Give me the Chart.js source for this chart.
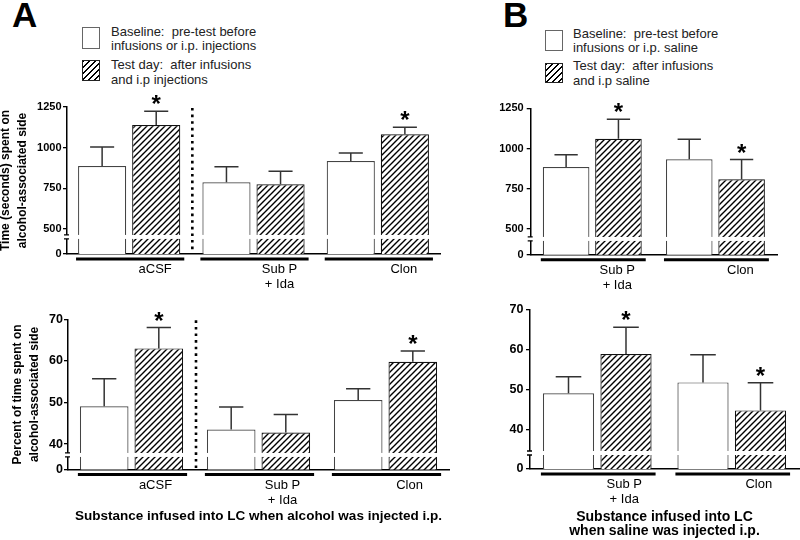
<!DOCTYPE html>
<html>
<head>
<meta charset="utf-8">
<script src="https://cdn.jsdelivr.net/npm/chart.js@4.4.1/dist/chart.umd.min.js"></script>
<style>
  body { margin: 0; background: #fff; }
  #page { position: relative; width: 800px; height: 540px; overflow: hidden; background: #fff;
    font-family: 'Liberation Sans', Arial, sans-serif; color: #111; }
  canvas { position: absolute; }
  .letter { position: absolute; font-weight: bold; font-size: 35px; line-height: 35px; color: #000; }
  .lg-text { position: absolute; font-size: 13px; line-height: 14px; white-space: nowrap; color: #222; }
  .sw { position: absolute; width: 16px; box-sizing: content-box; }
  .sw.plain { border: 1.5px solid #666; background: #fff; }
  .sw.hatch { border: 1.5px solid #222;
    background: repeating-linear-gradient(135deg, #000 0 1.3px, #fff 1.3px 4.2px); }
</style>
</head>
<body>
<div id="page">
  <div class="letter" style="left:12px; top:-3px;">A</div>
  <div class="sw plain" style="left:82px; top:27px; height:20px;"></div>
  <div class="lg-text" style="left:111px; top:25px;">Baseline:&nbsp; pre-test before<br>infusions or i.p. injections</div>
  <div class="sw hatch" style="left:82px; top:60px; height:19px;"></div>
  <div class="lg-text" style="left:111px; top:57px; line-height:15px;">Test day:&nbsp; after infusions<br>and i.p injections</div>

  <div class="letter" style="left:503px; top:-3px;">B</div>
  <div class="sw plain" style="left:545px; top:30px; height:19px;"></div>
  <div class="lg-text" style="left:573px; top:27px;">Baseline:&nbsp; pre-test before<br>infusions or i.p. saline</div>
  <div class="sw hatch" style="left:545px; top:63px; height:18px;"></div>
  <div class="lg-text" style="left:573px; top:58px; line-height:15px;">Test day:&nbsp; after infusions<br>and i.p saline</div>

  <canvas id="aTime" width="453" height="205" style="left:-3px; top:90px;"></canvas>
  <canvas id="aPct" width="460" height="240" style="left:0px; top:300px;"></canvas>
  <canvas id="bTime" width="320" height="205" style="left:480px; top:90px;"></canvas>
  <canvas id="bPct" width="320" height="240" style="left:480px; top:300px;"></canvas>
</div>
<script>
// categories
const groupsA = ['aCSF', ['Sub P', '+ Ida'], 'Clon'];
const groupsB = [['Sub P', '+ Ida'], 'Clon'];

// time (s) on alcohol-associated side, mean and SEM
const timeBaseA = [887, 787, 918];
const timeBaseErrA = [117, 96, 49];
const timeTestA = [1139, 775, 1082];
const timeTestErrA = [85, 80, 43];
const timeBaseB = [885, 933];
const timeBaseErrB = [77, 124];
const timeTestB = [1061, 809];
const timeTestErrB = [121, 122];

// percent of time on alcohol-associated side
const pctBaseA = [49.1, 43.5, 50.6];
const pctBaseErrA = [6.6, 5.4, 2.7];
const pctTestA = [63.0, 42.8, 59.8];
const pctTestErrA = [5.0, 4.3, 2.6];
const pctBaseB = [49.2, 51.9];
const pctBaseErrB = [4.1, 6.9];
const pctTestB = [59.0, 44.9];
const pctTestErrB = [6.7, 6.9];

// significance stars on test-day bars
const starsA = [true, false, true];
const starsB = [true, true];

// tick labels
const timeTicks = [500, 750, 1000, 1250];
const pctTicks = [40, 50, 60, 70];

const FONT = "'Liberation Sans', Arial, sans-serif";
Chart.defaults.font.family = FONT;
Chart.defaults.color = '#000';

function makeHatch() {
  const c = document.createElement('canvas');
  c.width = 6; c.height = 6;
  const g = c.getContext('2d');
  g.fillStyle = '#fff';
  g.fillRect(0, 0, 6, 6);
  g.strokeStyle = '#000';
  g.lineWidth = 1.4;
  g.beginPath();
  g.moveTo(-1, 7); g.lineTo(7, -1);
  g.moveTo(-1, 1); g.lineTo(1, -1);
  g.moveTo(5, 7); g.lineTo(7, 5);
  g.stroke();
  return g.createPattern(c, 'repeat');
}
const hatch = makeHatch();

// error bars, stars, group underlines, axis break, divider
const panelDecor = {
  id: 'panelDecor',
  afterDatasetsDraw(chart, args, opts) {
    const { ctx, chartArea: a, scales: { x, y } } = chart;
    ctx.save();
    chart.data.datasets.forEach((ds, di) => {
      chart.getDatasetMeta(di).data.forEach((bar, i) => {
        const top = y.getPixelForValue(ds.data[i] + ds.errors[i]);
        const half = bar.width / 4;
        ctx.strokeStyle = '#333';
        ctx.lineWidth = 1.5;
        ctx.beginPath();
        ctx.moveTo(bar.x, bar.y);
        ctx.lineTo(bar.x, top);
        ctx.moveTo(bar.x - half, top);
        ctx.lineTo(bar.x + half, top);
        ctx.stroke();
        if (ds.stars && ds.stars[i]) {
          ctx.fillStyle = '#000';
          ctx.font = 'bold 24px ' + FONT;
          ctx.textAlign = 'center';
          ctx.textBaseline = 'alphabetic';
          ctx.fillText('*', bar.x, top + 1);
        }
      });
    });

    const m0 = chart.getDatasetMeta(0).data;
    const m1 = chart.getDatasetMeta(1).data;
    ctx.strokeStyle = '#000';
    ctx.lineWidth = 3;
    m0.forEach((b0, i) => {
      const b1 = m1[i];
      ctx.beginPath();
      ctx.moveTo(b0.x - b0.width / 2 - 2, a.bottom + 5);
      ctx.lineTo(b1.x + b1.width / 2 + 4, a.bottom + 5);
      ctx.stroke();
    });

    const by = y.getPixelForValue(opts.breakAt);
    ctx.fillStyle = '#fff';
    ctx.fillRect(a.left - 1, by - 2, a.right - a.left + 1, 4);
    ctx.strokeStyle = '#000';
    ctx.lineWidth = 1.3;
    ctx.beginPath();
    ctx.moveTo(a.left - 3, by - 2); ctx.lineTo(a.left + 2, by - 2);
    ctx.moveTo(a.left - 3, by + 2); ctx.lineTo(a.left + 2, by + 2);
    ctx.stroke();

    if (opts.divider) {
      const dx = (x.getPixelForValue(0) + x.getPixelForValue(1)) / 2 + 1;
      ctx.strokeStyle = '#000';
      ctx.lineWidth = 2.6;
      ctx.setLineDash([2.6, 4]);
      ctx.beginPath();
      ctx.moveTo(dx, a.top + 1);
      ctx.lineTo(dx, a.bottom);
      ctx.stroke();
    }
    ctx.restore();
  },
};

function makePanel(p) {
  const canvas = document.getElementById(p.id);
  return new Chart(canvas, {
    type: 'bar',
    data: {
      labels: p.labels,
      datasets: [
        {
          label: 'Baseline',
          data: p.base,
          errors: p.baseErr,
          backgroundColor: '#fff',
          borderColor: '#444',
          borderWidth: 1.2,
          categoryPercentage: p.catPct,
          barPercentage: 0.89,
        },
        {
          label: 'Test day',
          data: p.test,
          errors: p.testErr,
          stars: p.stars,
          backgroundColor: hatch,
          borderColor: '#111',
          borderWidth: 1.2,
          categoryPercentage: p.catPct,
          barPercentage: 0.89,
        },
      ],
    },
    plugins: [panelDecor],
    options: {
      responsive: false,
      animation: false,
      events: [],
      layout: { padding: { top: p.padTop, right: p.padRight, left: 0, bottom: 0 } },
      plugins: {
        legend: { display: false },
        tooltip: { enabled: false },
        panelDecor: { breakAt: p.breakAt, divider: p.divider },
      },
      scales: {
        x: {
          grid: { display: false },
          border: { color: '#000', width: 1.5 },
          ticks: {
            color: '#000',
            font: { size: 13, lineHeight: 1.15 },
            padding: 0,
            labelOffset: p.labelOffset,
            maxRotation: 0,
            autoSkip: false,
          },
          title: p.xTitle ? {
            display: true,
            text: p.xTitle,
            color: '#000',
            font: { size: p.xTitleSize, weight: 'bold', lineHeight: p.xTitleLh },
            padding: { top: 0, bottom: p.xTitlePad },
          } : { display: false },
          afterFit: (s) => { s.height = p.xH; },
        },
        y: {
          min: p.min,
          max: p.max,
          afterBuildTicks: (s) => { s.ticks = [p.min, ...p.ticks].map((v) => ({ value: v })); },
          ticks: {
            color: '#000',
            padding: p.tickPad,
            font: { size: p.tickSize, weight: 'bold' },
            callback: (v) => (v === p.min ? '0' : v),
          },
          grid: { drawOnChartArea: false, drawTicks: true, tickLength: 4, color: '#000', lineWidth: 1.3 },
          border: { color: '#000', width: 1.5 },
          title: p.yTitle ? {
            display: true,
            text: p.yTitle,
            color: '#000',
            font: { size: 12, weight: 'bold', lineHeight: p.yTitleLh },
            padding: { top: p.yTitlePad, bottom: 0 },
          } : { display: false },
          afterFit: (s) => { s.width = p.yW; },
        },
      },
    },
  });
}

makePanel({
  id: 'aTime', labels: groupsA,
  base: timeBaseA, baseErr: timeBaseErrA, test: timeTestA, testErr: timeTestErrA, stars: starsA,
  ticks: timeTicks, min: 346, max: 1250, breakAt: 451, divider: true,
  yTitle: ['Time (seconds) spent on', 'alcohol-associated side'], yTitleLh: 1.4, yTitlePad: 0,
  yW: 70, xH: 41, padTop: 17, padRight: 10, catPct: 0.87, labelOffset: 26,
  tickSize: 11, tickPad: 1.5,
});

makePanel({
  id: 'aPct', labels: groupsA,
  base: pctBaseA, baseErr: pctBaseErrA, test: pctTestA, testErr: pctTestErrA, stars: starsA,
  ticks: pctTicks, min: 33.9, max: 70, breakAt: 37.4, divider: true,
  yTitle: ['Percent of time spent on', 'alcohol-associated side'], yTitleLh: 1.45, yTitlePad: 9,
  xTitle: 'Substance infused into LC when alcohol was injected i.p.', xTitleSize: 13.5, xTitleLh: 1.15, xTitlePad: 16,
  yW: 68, xH: 70.5, padTop: 19.3, padRight: 11, catPct: 0.86, labelOffset: 24,
  tickSize: 12.5, tickPad: 1,
});

makePanel({
  id: 'bTime', labels: groupsB,
  base: timeBaseB, baseErr: timeBaseErrB, test: timeTestB, testErr: timeTestErrB, stars: starsB,
  ticks: timeTicks, min: 340, max: 1250, breakAt: 438, divider: false,
  yW: 50.7, xH: 40.3, padTop: 18.3, padRight: 23, catPct: 0.85, labelOffset: 25,
  tickSize: 11, tickPad: 3,
});

makePanel({
  id: 'bPct', labels: groupsB,
  base: pctBaseB, baseErr: pctBaseErrB, test: pctTestB, testErr: pctTestErrB, stars: starsB,
  ticks: pctTicks, min: 30.25, max: 70, breakAt: 34.25, divider: false,
  xTitle: ['Substance infused into LC', 'when saline was injected i.p.'], xTitleSize: 14, xTitleLh: 1.05, xTitlePad: 1.3,
  yW: 50, xH: 71, padTop: 10, padRight: 1, catPct: 0.855, labelOffset: 27,
  tickSize: 12.5, tickPad: 2.5,
});
</script>
</body>
</html>
